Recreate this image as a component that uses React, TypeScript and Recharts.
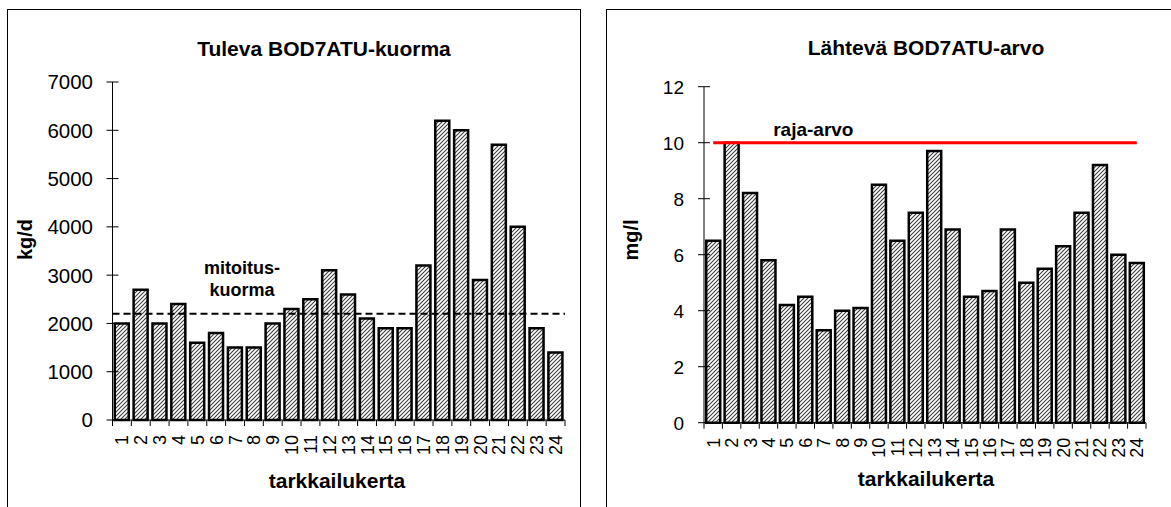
import { BarChart, Bar, XAxis, YAxis, ReferenceLine } from 'recharts'

const categories = ['1', '2', '3', '4', '5', '6', '7', '8', '9', '10', '11', '12', '13', '14', '15', '16', '17', '18', '19', '20', '21', '22', '23', '24']

// Tuleva BOD7ATU-kuorma, kg/d
const incomingLoad = [2000, 2700, 2000, 2400, 1600, 1800, 1500, 1500, 2000, 2300, 2500, 3100, 2600, 2100, 1900, 1900, 3200, 6200, 6000, 2900, 5700, 4000, 1900, 1400]
// Lähtevä BOD7ATU-arvo, mg/l
const effluentBod = [6.5, 10, 8.2, 5.8, 4.2, 4.5, 3.3, 4.0, 4.1, 8.5, 6.5, 7.5, 9.7, 6.9, 4.5, 4.7, 6.9, 5.0, 5.5, 6.3, 7.5, 9.2, 6.0, 5.7]

const loadTicks = [0, 1000, 2000, 3000, 4000, 5000, 6000, 7000]
const bodTicks = [0, 2, 4, 6, 8, 10, 12]

const designLoad = 2200
const limitValue = 10

const FONT = '"Liberation Sans", Arial, Helvetica, sans-serif'

const loadData = categories.map((c, i) => ({ cat: c, value: incomingLoad[i] }))
const bodData = categories.map((c, i) => ({ cat: c, value: effluentBod[i] }))

function makeYTick(labelGap: number, fontSize: number) {
  return (props: any) => {
    const { x, y, payload } = props
    return (
      <g>
        <line x1={x - 6} x2={x + 6} y1={y} y2={y} stroke="#000" strokeWidth={1} />
        <text x={x - labelGap} y={y} dy="0.36em" textAnchor="end" fontSize={fontSize} fontFamily={FONT} fill="#000">
          {payload.value}
        </text>
      </g>
    )
  }
}

function makeXTick(band: number, count: number) {
  return (props: any) => {
    const { x, y, payload, index } = props
    return (
      <g>
        <line x1={x - band / 2} x2={x - band / 2} y1={y} y2={y + 6} stroke="#000" strokeWidth={1} />
        {index === count - 1 && (
          <line x1={x + band / 2} x2={x + band / 2} y1={y} y2={y + 6} stroke="#000" strokeWidth={1} />
        )}
        <text
          transform={`translate(${x},${y + 15}) rotate(-90)`}
          textAnchor="end"
          dy="0.36em"
          fontSize={18}
          fontFamily={FONT}
          fill="#000"
        >
          {payload.value}
        </text>
      </g>
    )
  }
}

function Hatch({ id }: { id: string }) {
  return (
    <defs>
      <pattern id={id} patternUnits="userSpaceOnUse" width={4} height={4}>
        <rect width={4} height={4} fill="#fff" />
        <path d="M-1,1 l2,-2 M0,4 l4,-4 M3,5 l2,-2" stroke="#3a3a3a" strokeWidth={1.05} />
      </pattern>
    </defs>
  )
}

const mitoitusLabel = (props: any) => {
  const vb = props.viewBox
  return (
    <g fontFamily={FONT} fontWeight="bold" fontSize={18} fill="#000">
      <text x={vb.x + 129.5} y={vb.y - 40} textAnchor="middle">mitoitus-</text>
      <text x={vb.x + 129.5} y={vb.y - 18} textAnchor="middle">kuorma</text>
    </g>
  )
}

const rajaLabel = (props: any) => {
  const vb = props.viewBox
  return (
    <text x={vb.x + 60} y={vb.y - 7} fontFamily={FONT} fontWeight="bold" fontSize={19} fill="#000">
      raja-arvo
    </text>
  )
}

export default function App() {
  return (
    <div
      style={{
        position: 'absolute',
        left: 0,
        top: 0,
        width: 1171,
        height: 507,
        overflow: 'hidden',
        background: '#fff',
        fontFamily: FONT,
      }}
    >
      <div style={{ position: 'absolute', left: 7, top: 9, width: 572, height: 560, border: '1px solid #000' }} />
      <div style={{ position: 'absolute', left: 606, top: 9, width: 700, height: 560, border: '1px solid #000' }} />

      {/* left chart */}
      <div style={{ position: 'absolute', left: 0, top: 0 }}>
        <BarChart
          width={590}
          height={507}
          data={loadData}
          margin={{ top: 82, right: 25, bottom: 27, left: 0 }}
          barCategoryGap="12%"
        >
          <Hatch id="hatchL" />
          <text x={324} y={55.5} textAnchor="middle" fontSize={21} fontWeight="bold" fontFamily={FONT} fill="#000">
            Tuleva BOD7ATU-kuorma
          </text>
          <text x={337} y={487.5} textAnchor="middle" fontSize={21} fontWeight="bold" fontFamily={FONT} fill="#000">
            tarkkailukerta
          </text>
          <text
            transform="translate(31.8,239.5) rotate(-90)"
            textAnchor="middle"
            fontSize={20}
            fontWeight="bold"
            fontFamily={FONT}
            fill="#000"
          >
            kg/d
          </text>
          <XAxis
            dataKey="cat"
            interval={0}
            height={60}
            tickSize={0}
            tickMargin={0}
            tickLine={false}
            axisLine={{ stroke: '#000', strokeWidth: 1 }}
            tick={makeXTick(452.5 / 24, categories.length)}
          />
          <YAxis
            width={112.5}
            domain={[0, 7000]}
            ticks={loadTicks}
            interval={0}
            tickSize={0}
            tickMargin={0}
            tickLine={false}
            axisLine={{ stroke: '#000', strokeWidth: 1 }}
            tick={makeYTick(19.5, 20.5)}
          />
          <Bar dataKey="value" fill="url(#hatchL)" stroke="#000" strokeWidth={2.5} isAnimationActive={false} />
          <ReferenceLine
            y={designLoad}
            stroke="#000"
            strokeWidth={2}
            strokeDasharray="7 4"
            label={mitoitusLabel}
          />
        </BarChart>
      </div>

      {/* right chart */}
      <div style={{ position: 'absolute', left: 590, top: 0 }}>
        <BarChart
          width={581}
          height={507}
          data={bodData}
          margin={{ top: 86.7, right: 25, bottom: 24.3, left: 0 }}
          barCategoryGap="12%"
        >
          <Hatch id="hatchR" />
          <text x={336} y={54.5} textAnchor="middle" fontSize={21} fontWeight="bold" fontFamily={FONT} fill="#000">
            Lähtevä BOD7ATU-arvo
          </text>
          <text x={336} y={486} textAnchor="middle" fontSize={21} fontWeight="bold" fontFamily={FONT} fill="#000">
            tarkkailukerta
          </text>
          <text
            transform="translate(48,240) rotate(-90)"
            textAnchor="middle"
            fontSize={20}
            fontWeight="bold"
            fontFamily={FONT}
            fill="#000"
          >
            mg/l
          </text>
          <XAxis
            dataKey="cat"
            interval={0}
            height={60}
            tickSize={0}
            tickMargin={0}
            tickLine={false}
            axisLine={{ stroke: '#000', strokeWidth: 1 }}
            tick={makeXTick(442 / 24, categories.length)}
          />
          <YAxis
            width={114}
            domain={[0, 12]}
            ticks={bodTicks}
            interval={0}
            tickSize={0}
            tickMargin={0}
            tickLine={false}
            axisLine={{ stroke: '#000', strokeWidth: 1 }}
            tick={makeYTick(20, 19)}
          />
          <Bar dataKey="value" fill="url(#hatchR)" stroke="#000" strokeWidth={2.5} isAnimationActive={false} />
          <ReferenceLine
            segment={[
              { x: categories[0], y: limitValue },
              { x: categories[categories.length - 1], y: limitValue },
            ]}
            stroke="#ff0000"
            strokeWidth={3}
            label={rajaLabel}
          />
        </BarChart>
      </div>
    </div>
  )
}
